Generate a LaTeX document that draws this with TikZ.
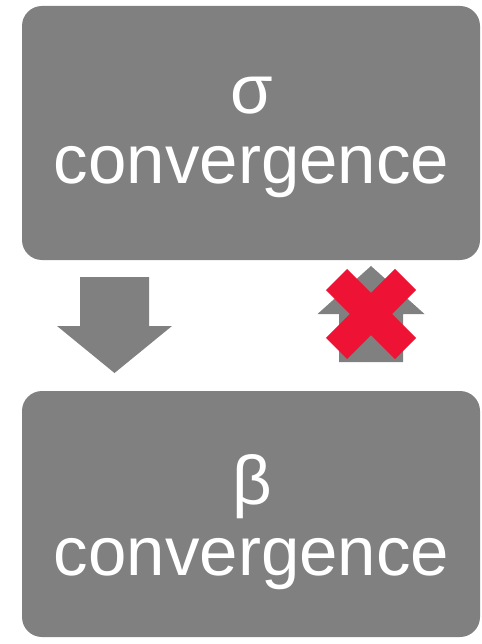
\documentclass[tikz,border=0pt]{standalone}
\usepackage{fontspec}
\setmainfont{Liberation Sans}
\usepackage{xcolor}
\usepackage{tikz}
\usetikzlibrary{calc}
\usetikzlibrary{positioning}
\definecolor{boxgray}{RGB}{128,128,128}
\definecolor{crossred}{RGB}{238,18,52}

\begin{document}
\begin{tikzpicture}[
		x=1pt,y=1pt,
		MyBoxes/.style={fill=boxgray,rounded corners=20pt,inner sep=0pt,minimum width=458pt},
		MyLabels/.style={text=white,anchor=base,inner sep=0pt,font=\fontsize{69}{70}\selectfont},
		MyArrows/.style={fill=boxgray},
		MyCross/.style={draw=crossred,line width=30pt,line cap=butt}
		]
		\useasboundingbox (0,0) rectangle (481,-644);
		
		% the two boxes
		\node[MyBoxes,minimum height=254pt] (sigma) at (251,-133) {};
		\node[MyBoxes,minimum height=246pt] (beta) at (251,-514) {};
		
		\node[MyLabels] (sigmasym) at (252,-114) {σ};
		\node[MyLabels] (sigmatxt) at (251.5,-184) {convergence};
		\node[MyLabels] (betasym) at (252,-504) {β};
		\node[MyLabels] (betatxt) at (251.5,-575) {convergence};
		
		\pgfmathparse{114.5}	\let\Xd\pgfmathresult
		\pgfmathparse{-373}		\let\Yd\pgfmathresult
		\coordinate (D) at (\Xd,\Yd);
		
		\pgfmathparse{371}		\let\Xu\pgfmathresult
		\pgfmathparse{-266}		\let\Yu\pgfmathresult
		\coordinate (U) at (\Xu,\Yu);
		
		% sigma implies beta
		\fill[MyArrows] (D) -- ++(-57.5,47) -- ++(23,0) -- ++(0,49) -- ++(69,0) -- ++(0,-49) -- ++(23,0) -- cycle;
		
		% beta does not imply sigma
		\fill[MyArrows] (U) -- ++(-53.5,-48) -- ++(21.5,0) -- ++(0,-48) -- ++(64,0) -- ++(0,48) -- ++(21.5,0) -- cycle;
		
		\coordinate (X) at ($(U)+(0,-48)$);
		\draw[MyCross] ($(X)+(-34.5,34.5)$) -- ($(X)+(34.5,-34.5)$);
		\draw[MyCross] ($(X)+(-34.5,-34.5)$) -- ($(X)+(34.5,34.5)$);
		
\end{tikzpicture}
\end{document}
